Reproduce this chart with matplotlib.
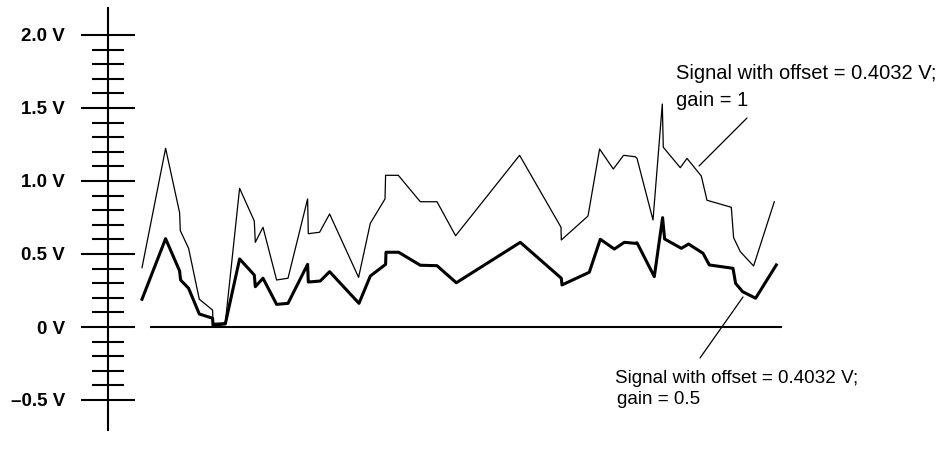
"""
Offset signal shown at gain 1 and gain 0.5, drawn against a volts scale.
"""

import numpy as np
import matplotlib
matplotlib.use("Agg")
import matplotlib.pyplot as plt
from matplotlib.ticker import FixedLocator

plt.rcParams['font.family'] = ['Liberation Sans', 'DejaVu Sans']

# signal with gain = 1 (time in arbitrary units, volts)
t_gain1 = [0, 23.6, 37.6, 38.3, 46.6, 57.3, 70.6, 71, 83.3, 97.6, 112.3, 113.3,
           121, 134.6, 146, 165.6, 166.3, 177.6, 187.6, 216.6, 228.3, 243, 243.6,
           256.3, 278.3, 295, 313.6, 377.6, 419, 419.3, 446, 457.6, 471.3, 481.6,
           493.3, 495, 511, 520.3, 521.3, 538.3, 545, 559.3, 565, 589.3, 591.6,
           598.3, 611.6, 632.3]
v_gain1 = [0.406, 1.224, 0.783, 0.660, 0.539, 0.190, 0.116, 0.025, 0.029, 0.950,
           0.726, 0.580, 0.683, 0.322, 0.334, 0.877, 0.639, 0.649, 0.774, 0.340,
           0.710, 0.877, 1.039, 1.039, 0.858, 0.858, 0.625, 1.176, 0.683, 0.596,
           0.760, 1.219, 1.082, 1.176, 1.166, 1.155, 0.733, 1.527, 1.231, 1.091,
           1.155, 1.034, 0.868, 0.820, 0.612, 0.516, 0.418, 0.858]

# same signal with gain = 0.5
t_gain05 = [0, 23.6, 37.6, 38.6, 46.6, 57.3, 70.6, 71, 83.3, 97.6, 112.3, 113.3,
            121, 134.6, 146, 165.6, 166.3, 178.3, 187.6, 217, 228.3, 243.6, 244,
            256.6, 278.3, 295, 314.3, 378.3, 419.3, 420, 447.3, 458.3, 472.3,
            482.3, 493.3, 495, 512.3, 520.6, 522.6, 539.3, 546.6, 561, 567.3, 591,
            593.6, 600.6, 613.6, 634.3]
v_gain05 = [0.190, 0.605, 0.384, 0.322, 0.265, 0.089, 0.060, 0.012, 0.021, 0.466,
            0.356, 0.276, 0.334, 0.155, 0.162, 0.429, 0.308, 0.315, 0.379, 0.162,
            0.349, 0.429, 0.512, 0.512, 0.423, 0.420, 0.303, 0.580, 0.334, 0.288,
            0.375, 0.601, 0.534, 0.580, 0.573, 0.577, 0.345, 0.749, 0.603, 0.539,
            0.568, 0.505, 0.425, 0.402, 0.299, 0.242, 0.197, 0.425]

major_ticks = [-0.5, 0.0, 0.5, 1.0, 1.5, 2.0]
major_labels = ['\u20130.5 V', '0 V', '0.5 V', '1.0 V', '1.5 V', '2.0 V']
minor_ticks = [v / 10 for v in range(-5, 21) if v % 5 != 0]

label_top = ['Signal with offset = 0.4032 V;', 'gain = 1']
label_bottom = ['Signal with offset = 0.4032 V;', 'gain = 0.5']


def make_plot():
    fig = plt.figure(figsize=(9.49, 4.49), dpi=100)
    ax = fig.add_axes([0, 0, 1, 1])
    ax.set_xlim(-142, 807)
    ax.set_ylim(-122 / 146, 327 / 146)

    # vertical volts axis
    for side in ['top', 'right', 'bottom']:
        ax.spines[side].set_visible(False)
    ax.spines['left'].set_position(('data', -34))
    ax.spines['left'].set_bounds(-0.705, 2.185)
    ax.spines['left'].set_linewidth(1.5)
    ax.xaxis.set_visible(False)
    ax.yaxis.set_major_locator(FixedLocator(major_ticks))
    ax.yaxis.set_minor_locator(FixedLocator(minor_ticks))
    ax.set_yticklabels(major_labels)
    ax.tick_params(axis='y', which='major', direction='inout', length=39,
                   width=1.5, pad=11.5, labelsize=13.5)
    ax.tick_params(axis='y', which='minor', direction='inout', length=23,
                   width=1.5)
    for lab in ax.get_yticklabels():
        lab.set_fontweight('bold')

    # zero reference line
    ax.hlines(0, 8, 640, color='black', linewidth=1.5)

    ax.plot(t_gain1, v_gain1, color='black', linewidth=0.9)
    ax.plot(t_gain05, v_gain05, color='black', linewidth=2.2)

    # callouts
    ax.annotate('', xy=(557, (327 - 166) / 146), xytext=(605, (327 - 118) / 146),
                arrowprops=dict(arrowstyle='-', color='black', lw=0.9,
                                shrinkA=0, shrinkB=0))
    ax.annotate('', xy=(601, (327 - 297) / 146), xytext=(558, (327 - 358) / 146),
                arrowprops=dict(arrowstyle='-', color='black', lw=0.9,
                                shrinkA=0, shrinkB=0))

    ax.text(534, (327 - 79) / 146, label_top[0], fontsize=14.5, va='baseline')
    ax.text(534, (327 - 106) / 146, label_top[1], fontsize=14.5, va='baseline')
    ax.text(473, (327 - 383) / 146, label_bottom[0], fontsize=13.6, va='baseline')
    ax.text(475, (327 - 404) / 146, label_bottom[1], fontsize=13.6, va='baseline')

    fig.savefig('out.png', dpi=100)
    plt.close(fig)


if __name__ == "__main__":
    make_plot()
